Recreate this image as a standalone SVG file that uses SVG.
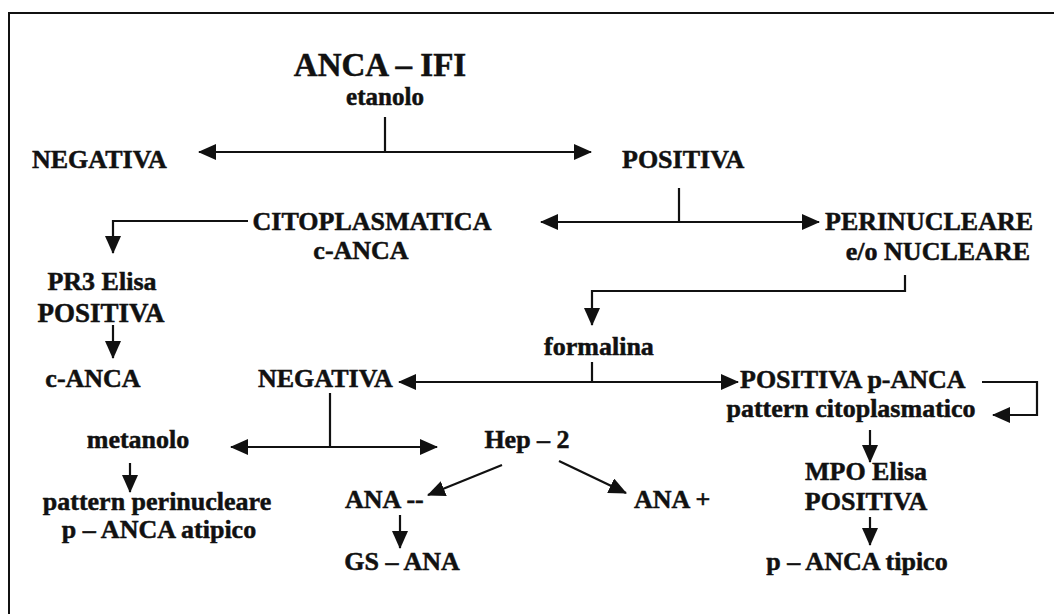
<svg xmlns="http://www.w3.org/2000/svg" width="1054" height="614" viewBox="0 0 1054 614">
<style>
text{font-family:"Liberation Serif","Times New Roman",serif;font-weight:bold;fill:#111;stroke:#111;stroke-width:0.5;font-size:26px}
.m{text-anchor:middle}
.e{text-anchor:end}
.c{fill:none;stroke:#111;stroke-width:2.2}
</style>
<defs>
<marker id="ah" viewBox="0 0 18 16" refX="17" refY="8" markerWidth="18" markerHeight="16" markerUnits="userSpaceOnUse" orient="auto-start-reverse">
<path d="M0,0 L18,8 L0,16 Z" fill="#111"/>
</marker>
</defs>
<rect width="1054" height="614" fill="#fff"/>
<path d="M9,614 V13 H1054" fill="none" stroke="#111" stroke-width="2"/>
<g id="connectors">
<line class="c" x1="385" y1="117" x2="385" y2="152"/>
<line class="c" x1="199" y1="152" x2="591" y2="152" marker-start="url(#ah)" marker-end="url(#ah)"/>
<line class="c" x1="679" y1="188" x2="679" y2="222"/>
<line class="c" x1="541" y1="222" x2="819" y2="222" marker-start="url(#ah)" marker-end="url(#ah)"/>
<polyline class="c" points="248,221 113,221 113,253" marker-end="url(#ah)"/>
<line class="c" x1="113" y1="325" x2="113" y2="358" marker-end="url(#ah)"/>
<polyline class="c" points="905,275 905,291 592,291 592,325" marker-end="url(#ah)"/>
<line class="c" x1="592" y1="362" x2="592" y2="382"/>
<line class="c" x1="399" y1="382" x2="738" y2="382" marker-start="url(#ah)" marker-end="url(#ah)"/>
<polyline class="c" points="982,382 1037,382 1037,415 993,415" marker-end="url(#ah)"/>
<line class="c" x1="870" y1="430" x2="870" y2="462" marker-end="url(#ah)"/>
<line class="c" x1="870" y1="517" x2="870" y2="545" marker-end="url(#ah)"/>
<line class="c" x1="330" y1="393" x2="330" y2="447"/>
<line class="c" x1="231" y1="447" x2="437" y2="447" marker-start="url(#ah)" marker-end="url(#ah)"/>
<line class="c" x1="130" y1="463" x2="130" y2="492" marker-end="url(#ah)"/>
<line class="c" x1="502" y1="465" x2="428" y2="495" marker-end="url(#ah)"/>
<line class="c" x1="559" y1="461" x2="626" y2="493" marker-end="url(#ah)"/>
<line class="c" x1="400" y1="515" x2="400" y2="548" marker-end="url(#ah)"/>
</g>
<g id="title"><text class="m" x="380" y="76" style="font-size:33px">ANCA – IFI</text><text class="m" x="385" y="105" style="font-size:25px">etanolo</text></g>
<g id="neg1"><text x="32" y="168">NEGATIVA</text></g>
<g id="pos1"><text x="622" y="168">POSITIVA</text></g>
<g id="citoplasmatica"><text class="m" x="372" y="230">CITOPLASMATICA</text><text class="m" x="361" y="259">c-ANCA</text></g>
<g id="perinucleare"><text x="825" y="230">PERINUCLEARE</text><text class="e" x="1030" y="260">e/o NUCLEARE</text></g>
<g id="pr3"><text class="m" x="102" y="290">PR3 Elisa</text><text class="m" x="101" y="322" style="font-size:27px">POSITIVA</text></g>
<g id="canca"><text class="m" x="93" y="387">c-ANCA</text></g>
<g id="formalina"><text class="m" x="599" y="355">formalina</text></g>
<g id="neg2"><text x="258" y="387">NEGATIVA</text></g>
<g id="pos2"><text x="740" y="388">POSITIVA p-ANCA</text><text class="m" x="851" y="417">pattern citoplasmatico</text></g>
<g id="metanolo"><text class="m" x="138" y="448">metanolo</text></g>
<g id="atipico"><text class="m" x="157" y="510">pattern  perinucleare</text><text class="m" x="159" y="538">p – ANCA atipico</text></g>
<g id="hep2"><text class="m" x="527" y="448">Hep – 2</text></g>
<g id="ananeg"><text x="345" y="508">ANA --</text></g>
<g id="gsana"><text class="m" x="402" y="570">GS – ANA</text></g>
<g id="anapos"><text x="634" y="508">ANA +</text></g>
<g id="mpo"><text class="m" x="866" y="480">MPO Elisa</text><text class="m" x="866" y="510">POSITIVA</text></g>
<g id="tipico"><text class="m" x="857" y="570">p – ANCA tipico</text></g>
</svg>
